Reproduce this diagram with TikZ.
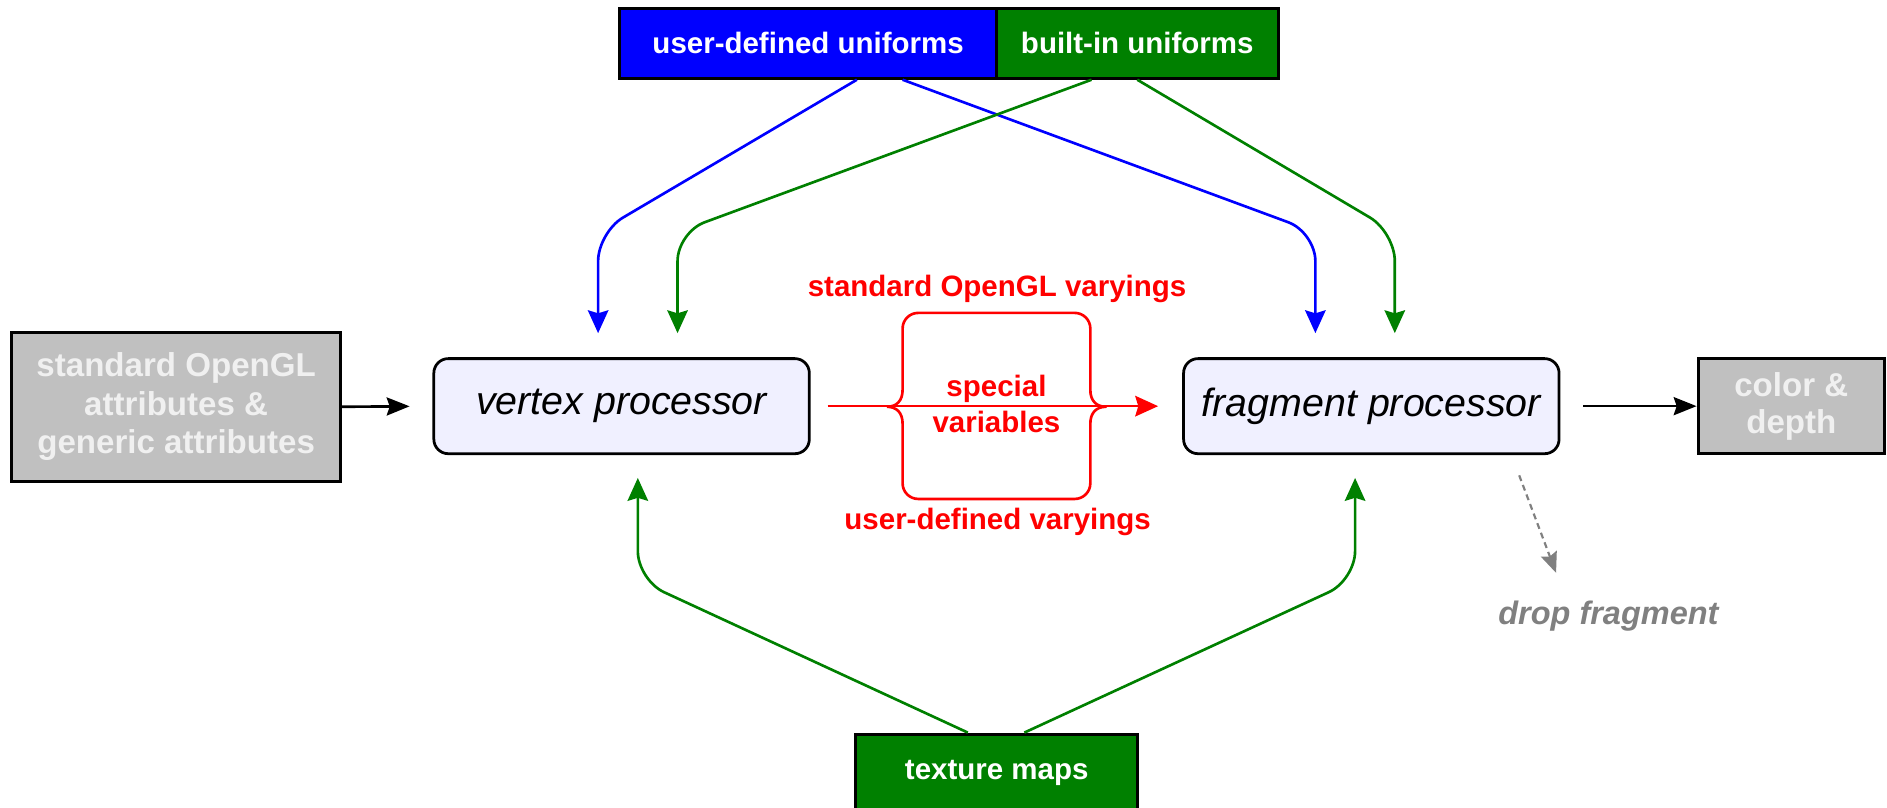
\documentclass[tikz,border=0pt]{standalone}
\usepackage{fontspec}
\setmainfont{Liberation Sans}
\usetikzlibrary{arrows.meta}
\definecolor{cblue}{RGB}{0,0,255}
\definecolor{cgreen}{RGB}{0,128,0}
\definecolor{cred}{RGB}{255,0,0}
\definecolor{cgrayfill}{RGB}{192,192,192}
\definecolor{cgraytext}{RGB}{240,240,240}
\definecolor{clav}{RGB}{240,240,255}
\definecolor{cdrop}{RGB}{128,128,128}
\begin{document}
\begin{tikzpicture}[x=1pt,y=-1pt,
  box/.style={draw=black,line width=2.5pt,inner sep=0pt,align=center},
  topbox/.style={box,text=white,minimum height=58pt,font=\bfseries\fontsize{24.5}{29}\selectfont},
  graybox/.style={box,fill=cgrayfill,text=cgraytext,font=\bfseries\fontsize{27.5}{32}\selectfont},
  procbox/.style={box,line width=2.3pt,fill=clav,rounded corners=12pt,minimum width=312pt,minimum height=79pt,font=\itshape\fontsize{32.7}{38}\selectfont},
  redlbl/.style={text=cred,font=\bfseries\fontsize{24.5}{29}\selectfont,inner sep=0pt,anchor=base},
  tip/.style={-{Stealth[length=19pt,width=17pt,inset=2.5pt]}},
  cn/.style={line width=2.2pt,rounded corners=24pt,tip},
  blk/.style={line width=2.2pt,-{Stealth[length=19pt,width=15pt,inset=2.5pt]}}]
\useasboundingbox (0,0) rectangle (1568,671);

% boxes
\node[topbox,fill=cblue,minimum width=313pt] (udu) at (671.5,36) {user-defined uniforms};
\node[topbox,fill=cgreen,minimum width=234pt] (biu) at (945,36) {built-in uniforms};
\node[graybox,minimum width=273pt,minimum height=124pt] (attr) at (146.4,338) {standard OpenGL\\attributes \&\\generic attributes};
\node[procbox] (vp) at (516.5,337.5) {vertex processor};
\node[procbox] (fp) at (1139.5,337.5) {fragment processor};
\node[graybox,minimum width=155pt,minimum height=79pt,font=\bfseries\fontsize{27.5}{31}\selectfont] (cd) at (1488.5,337.5) {color \&\\depth};
\node[topbox,fill=cgreen,minimum width=234.5pt,minimum height=64pt] (tex) at (828.2,642) {texture maps};

% corner coordinates
\coordinate (c1) at (497,193);
\coordinate (c2) at (563,193);
\coordinate (c3) at (1093,193);
\coordinate (c4) at (1159,193);
\coordinate (c5) at (530,482);
\coordinate (c6) at (1126,482);

% uniforms
\draw[cn,cblue,shorten >=20pt] ([xshift=40.5pt]udu.south) -- (c1) -- ([xshift=-19.5pt]vp.north);
\draw[cn,cblue,shorten >=20pt] ([xshift=78.5pt]udu.south) -- (c3) -- ([xshift=-46.5pt]fp.north);
\draw[cn,cgreen,shorten >=20pt] ([xshift=-38pt]biu.south) -- (c2) -- ([xshift=46.5pt]vp.north);
\draw[cn,cgreen,shorten >=20pt] (biu.south) -- (c4) -- ([xshift=19.5pt]fp.north);

% textures
\draw[cn,cgreen,shorten >=19pt] ([xshift=-24pt]tex.north) -- (c5) -- ([xshift=13.5pt]vp.south);
\draw[cn,cgreen,shorten >=19pt] ([xshift=23pt]tex.north) -- (c6) -- ([xshift=-13.5pt]fp.south);

% black arrows
\draw[blk,shorten >=19pt] (attr.east) -- (vp.west);
\draw[blk,shorten <=19pt] (fp.east) -- (cd.west);

% varyings
\draw[line width=2.2pt,cred,line join=round]
  (737,338) .. controls (745,338) and (750,333) .. (750,324)
  -- (750,273) .. controls (750,265.8) and (755.8,260) .. (763,260)
  -- (893,260) .. controls (900.2,260) and (906,265.8) .. (906,273)
  -- (906,324) .. controls (906,333) and (911,338) .. (919,338)
  .. controls (911,338) and (906,343) .. (906,352)
  -- (906,401.6) .. controls (906,408.8) and (900.2,414.6) .. (893,414.6)
  -- (763,414.6) .. controls (755.8,414.6) and (750,408.8) .. (750,401.6)
  -- (750,352) .. controls (750,343) and (745,338) .. (737,338);
\draw[cn,cred,shorten <=14pt,shorten >=20pt] (vp.east) -- (fp.west);
\node[redlbl] (sov) at (828.5,246) {standard OpenGL varyings};
\node[redlbl] (udv) at (829,440) {user-defined varyings};
\node[redlbl] (sp) at (828,329.6) {special};
\node[redlbl] (va) at (828,359) {variables};

% drop fragment
\node[text=cdrop,font=\bfseries\itshape\fontsize{27}{32}\selectfont,inner sep=0pt,anchor=base] (drop) at (1336.5,519) {drop fragment};
\coordinate (dropend) at (1293,476);
\draw[cdrop,line width=1.8pt,dash pattern=on 5pt off 3.5pt,shorten <=18pt,-{Stealth[length=17pt,width=14pt,inset=2.5pt]}] ([xshift=116.5pt]fp.south) -- (dropend);
\end{tikzpicture}
\end{document}
